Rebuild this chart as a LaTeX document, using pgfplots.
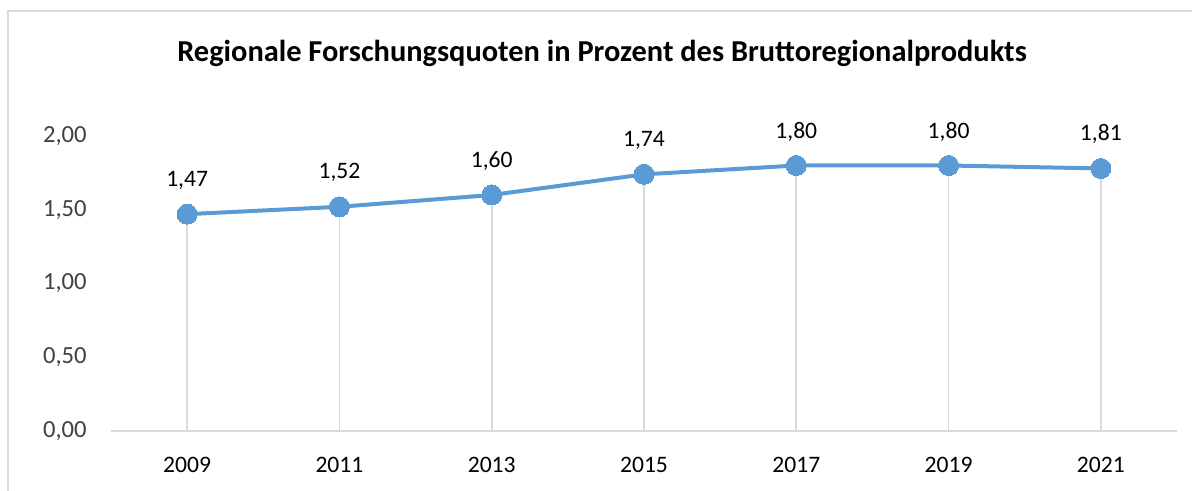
\documentclass[border=0pt]{standalone}
\usepackage{pgfplots}
\pgfplotsset{compat=1.18}
\usepackage{fontspec}
\setmainfont{Carlito}
\definecolor{lineblue}{HTML}{5B9BD5}
\definecolor{gridgray}{HTML}{D9D9D9}
\definecolor{ticktext}{HTML}{404040}
\pgfplotstableread{
x y lab
0 1.47 1,47
1 1.52 1,52
2 1.60 1,60
3 1.74 1,74
4 1.80 1,80
5 1.80 1,80
6 1.78 1,81
}\datatab
\begin{document}
\begin{tikzpicture}[x=1pt,y=1pt]
\useasboundingbox (0,0) rectangle (596,245.5);
\draw[gridgray, line width=0.75pt] (4,-20) rectangle (640,240);
\node[font=\fontsize{15.2}{17}\selectfont\bfseries] at (301,219) {Regionale Forschungsquoten in Prozent des Bruttoregionalprodukts};
\begin{axis}[
  at={(55.5pt,30pt)}, anchor=south west,
  scale only axis, width=533pt, height=147.5pt,
  xmin=-0.5, xmax=6.5, ymin=0, ymax=2,
  xtick={0,1,2,3,4,5,6},
  xticklabels={2009,2011,2013,2015,2017,2019,2021},
  ytick={0,0.5,1,1.5,2},
  axis x line=bottom, axis y line=left,
  y axis line style={draw=none},
  x axis line style={-, draw=gridgray, line width=0.9pt},
  major tick length=0pt,
  tick style={draw=none},
  /pgf/number format/.cd, use comma, fixed, fixed zerofill, precision=2, 1000 sep={}, assume math mode=true,
  /pgfplots/.cd,
  yticklabel style={inner sep=0pt, anchor=east, xshift=-12pt, font=\fontsize{12.3}{14}\selectfont, text=ticktext},
  xticklabel style={inner sep=0pt, anchor=north, yshift=-13pt, font=\fontsize{11.8}{14}\selectfont, text=black},
  clip=false,
]
\addplot[ycomb, draw=gridgray, line width=0.9pt, no marks] table[x=x, y=y] {\datatab};
\addplot[lineblue, line width=2pt, mark=*, mark size=5pt, mark options={fill=lineblue, draw=lineblue, line width=0pt},
  point meta=explicit symbolic,
  nodes near coords,
  nodes near coords style={anchor=center, yshift=17pt, inner sep=0pt, font=\fontsize{11.8}{14}\selectfont, text=black}]
  table[x=x, y=y, meta=lab] {\datatab};
\end{axis}
\end{tikzpicture}
\end{document}
